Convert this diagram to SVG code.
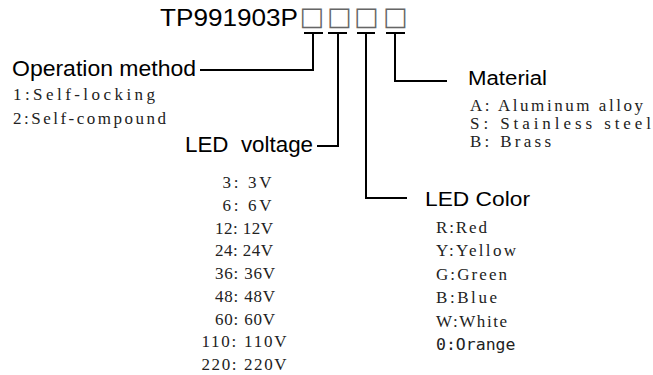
<svg xmlns="http://www.w3.org/2000/svg" width="653" height="375" viewBox="0 0 653 375">
<style>
.h{font-family:"Liberation Sans",Arial,sans-serif;fill:#000}
.m{font-family:"Liberation Serif","Times New Roman",serif;fill:#222}
.d{font-family:"DejaVu Sans Mono",monospace;fill:#222}
.box{font-family:"DejaVu Sans",sans-serif;fill:#666}
.c{fill:none;stroke:#000;stroke-width:2}
</style>
<rect width="653" height="375" fill="#fff"/>
<g id="title">
<text class="h" x="160" y="26" font-size="23" textLength="138" lengthAdjust="spacingAndGlyphs">TP991903P</text>
<text class="box" x="299.5 327 354 383" y="24.5" font-size="26">□□□□</text>
</g>
<g id="connectors">
<path class="c" d="M304 33H323M313 33V70H200"/>
<path class="c" d="M328 33H347M338 33V146H317"/>
<path class="c" d="M357 33H375M366 33V198H407"/>
<path class="c" d="M386 33H405M395 33V81H447"/>
</g>
<g id="operation">
<text class="h" x="12" y="76" font-size="22" textLength="184" lengthAdjust="spacingAndGlyphs">Operation method</text>
<text class="m" x="13" y="100" font-size="17" textLength="142" lengthAdjust="spacing">1:Self-locking</text>
<text class="m" x="13" y="124" font-size="17" textLength="153" lengthAdjust="spacing">2:Self-compound</text>
</g>
<g id="voltage">
<text class="h" x="185" y="152" font-size="22" textLength="128" lengthAdjust="spacingAndGlyphs" xml:space="preserve">LED  voltage</text>
<g class="m" font-size="17" text-anchor="middle">
<text x="247" y="188" textLength="49" lengthAdjust="spacing" xml:space="preserve">3: 3V</text>
<text x="247" y="211" textLength="49" lengthAdjust="spacing" xml:space="preserve">6: 6V</text>
<text x="244" y="234" textLength="58" lengthAdjust="spacing" xml:space="preserve">12: 12V</text>
<text x="244" y="256" textLength="58" lengthAdjust="spacing" xml:space="preserve">24: 24V</text>
<text x="245" y="279" textLength="60" lengthAdjust="spacing" xml:space="preserve">36: 36V</text>
<text x="245" y="302" textLength="60" lengthAdjust="spacing" xml:space="preserve">48: 48V</text>
<text x="245" y="325" textLength="60" lengthAdjust="spacing" xml:space="preserve">60: 60V</text>
<text x="244" y="347" textLength="85" lengthAdjust="spacing" xml:space="preserve">110: 110V</text>
<text x="244" y="370" textLength="85" lengthAdjust="spacing" xml:space="preserve">220: 220V</text>
</g>
</g>
<g id="material">
<text class="h" x="468" y="85" font-size="20" textLength="79" lengthAdjust="spacingAndGlyphs">Material</text>
<text class="m" x="470" y="110.5" font-size="17" textLength="173" lengthAdjust="spacing">A: Aluminum alloy</text>
<text class="m" x="470" y="128.5" font-size="17" textLength="181" lengthAdjust="spacing">S: Stainless steel</text>
<text class="m" x="470" y="146.5" font-size="17" textLength="81" lengthAdjust="spacing">B: Brass</text>
</g>
<g id="color">
<text class="h" x="425" y="206" font-size="21" textLength="105" lengthAdjust="spacingAndGlyphs">LED Color</text>
<text class="m" x="436" y="233" font-size="17" textLength="51" lengthAdjust="spacing">R:Red</text>
<text class="m" x="436" y="256" font-size="17" textLength="80" lengthAdjust="spacing">Y:Yellow</text>
<text class="m" x="436" y="280" font-size="17" textLength="71" lengthAdjust="spacing">G:Green</text>
<text class="m" x="436" y="303" font-size="17" textLength="61" lengthAdjust="spacing">B:Blue</text>
<text class="m" x="436" y="327" font-size="17" textLength="71" lengthAdjust="spacing">W:White</text>
<text class="d" x="436" y="350" font-size="16.5">0:Orange</text>
</g>
</svg>
